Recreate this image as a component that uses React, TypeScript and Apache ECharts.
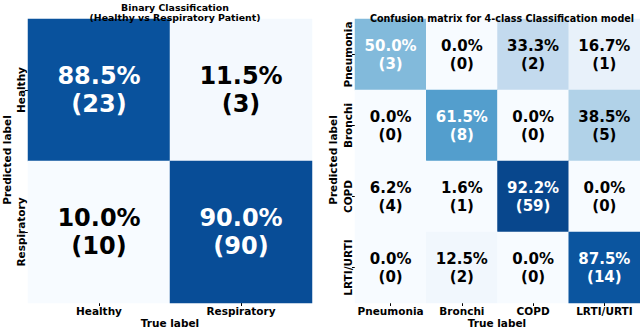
import React, { useEffect, useRef } from "react";
import * as echarts from "echarts";

const binaryCategories = ["Healthy", "Respiratory"];
const binaryPercents = [
  [88.5, 11.5],
  [10.0, 90.0],
];
const binaryCounts = [
  [23, 3],
  [10, 90],
];

const multiCategories = ["Pneumonia", "Bronchi", "COPD", "LRTI/URTI"];
const multiPercents = [
  [50.0, 0.0, 33.3, 16.7],
  [0.0, 61.5, 0.0, 38.5],
  [6.2, 1.6, 92.2, 0.0],
  [0.0, 12.5, 0.0, 87.5],
];
const multiCounts = [
  [3, 0, 2, 1],
  [0, 8, 0, 5],
  [4, 1, 59, 0],
  [0, 2, 0, 14],
];

const blues = ["#f7fbff", "#deebf7", "#c6dbef", "#9ecae1", "#6baed6", "#4292c6", "#2171b5", "#08519c", "#08306b"];
const COLOR_MIN = 10;
const COLOR_MAX = 100;
const FONT = "DejaVu Sans";

function buildData(pcts: number[][], counts: number[][]) {
  const out: any[] = [];
  pcts.forEach((row, r) => {
    row.forEach((v, c) => {
      out.push({
        value: [c, r, v, counts[r][c], Math.min(COLOR_MAX, Math.max(COLOR_MIN, v))],
        label: { color: v >= 45 ? "#ffffff" : "#000000" },
      });
    });
  });
  return out;
}

export default function App() {
  const ref = useRef<HTMLDivElement>(null);
  useEffect(() => {
    if (!ref.current) return;
    const chart = echarts.init(ref.current, null, { renderer: "svg" });
    const labelFmt = (p: any) => `${p.value[2].toFixed(1)}%\n(${p.value[3]})`;
    const axisLabelStyle = { fontFamily: FONT, fontWeight: "bold" as const, fontSize: 10.5, color: "#000", interval: 0 };
    const tick = { show: true, length: 3, alignWithLabel: true, interval: 0, lineStyle: { color: "#000" } };
    chart.setOption({
      animation: false,
      backgroundColor: "#ffffff",
      title: [
        {
          text: "Binary Classification\n(Healthy vs Respiratory Patient)",
          left: 170,
          top: -3,
          textAlign: "center",
          textStyle: { fontFamily: FONT, fontWeight: "bold", fontSize: 9.4, lineHeight: 10.5, color: "#000" },
        },
        {
          text: "Confusion matrix for 4-class Classification model",
          left: 497,
          top: 8,
          textAlign: "center",
          textStyle: { fontFamily: FONT, fontWeight: "bold", fontSize: 9.6, color: "#000" },
        },
      ],
      grid: [
        { left: 28, top: 19, width: 284, height: 284 },
        { left: 355, top: 19, width: 285, height: 284 },
      ],
      xAxis: [
        {
          type: "category", gridIndex: 0, data: binaryCategories, position: "bottom",
          axisLine: { show: false }, axisTick: tick,
          axisLabel: { ...axisLabelStyle, margin: 2 }, splitLine: { show: false },
        },
        {
          type: "category", gridIndex: 1, data: multiCategories, position: "bottom",
          axisLine: { show: false }, axisTick: tick,
          axisLabel: { ...axisLabelStyle, margin: 2 }, splitLine: { show: false },
        },
      ],
      yAxis: [
        {
          type: "category", gridIndex: 0, data: binaryCategories, inverse: true,
          axisLine: { show: false }, axisTick: tick,
          axisLabel: { ...axisLabelStyle, rotate: 90, margin: 2 }, splitLine: { show: false },
        },
        {
          type: "category", gridIndex: 1, data: multiCategories, inverse: true,
          axisLine: { show: false }, axisTick: tick,
          axisLabel: { ...axisLabelStyle, rotate: 90, margin: 2 }, splitLine: { show: false },
        },
      ],
      visualMap: [
        { type: "continuous", show: false, min: COLOR_MIN, max: COLOR_MAX, dimension: 4, seriesIndex: 0, inRange: { color: blues } },
        { type: "continuous", show: false, min: COLOR_MIN, max: COLOR_MAX, dimension: 4, seriesIndex: 1, inRange: { color: blues } },
      ],
      series: [
        {
          type: "heatmap", xAxisIndex: 0, yAxisIndex: 0,
          data: buildData(binaryPercents, binaryCounts),
          label: { show: true, formatter: labelFmt, fontFamily: FONT, fontWeight: "bold", fontSize: 24, lineHeight: 28 },
          itemStyle: { borderWidth: 0 },
          emphasis: { disabled: true },
        },
        {
          type: "heatmap", xAxisIndex: 1, yAxisIndex: 1,
          data: buildData(multiPercents, multiCounts),
          label: { show: true, formatter: labelFmt, fontFamily: FONT, fontWeight: "bold", fontSize: 15, lineHeight: 18 },
          itemStyle: { borderWidth: 0 },
          emphasis: { disabled: true },
        },
      ],
      graphic: [
        { type: "text", x: 7, y: 160, rotation: Math.PI / 2, style: { text: "Predicted label", fontFamily: FONT, fontWeight: "bold", fontSize: 10.5, fill: "#000", align: "center", verticalAlign: "middle" } },
        { type: "text", x: 170, y: 322.5, style: { text: "True label", fontFamily: FONT, fontWeight: "bold", fontSize: 10.5, fill: "#000", align: "center", verticalAlign: "middle" } },
        { type: "text", x: 333, y: 160, rotation: Math.PI / 2, style: { text: "Predicted label", fontFamily: FONT, fontWeight: "bold", fontSize: 10.5, fill: "#000", align: "center", verticalAlign: "middle" } },
        { type: "text", x: 497, y: 322.5, style: { text: "True label", fontFamily: FONT, fontWeight: "bold", fontSize: 10.5, fill: "#000", align: "center", verticalAlign: "middle" } },
      ],
    });
    return () => chart.dispose();
  }, []);
  return <div ref={ref} style={{ position: "fixed", left: 0, top: 0, width: 640, height: 328 }} />;
}
